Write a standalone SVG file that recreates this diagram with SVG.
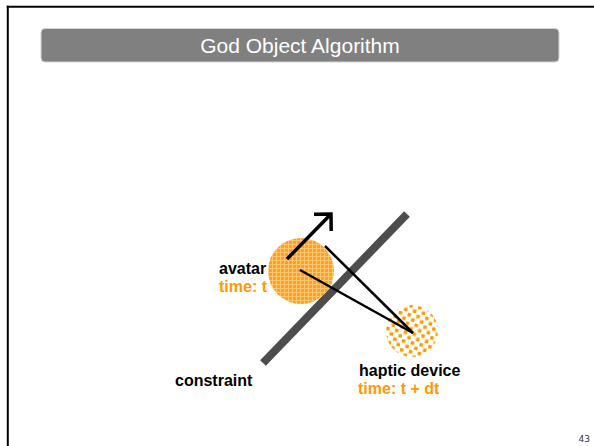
<svg xmlns="http://www.w3.org/2000/svg" width="594" height="446" viewBox="0 0 594 446">
  <style>
    .lbl { font-family: "Liberation Sans", Arial, sans-serif; font-weight: bold; font-size: 16px; }
    .blk { fill: #000000; }
    .org { fill: #FF9900; }
    .conn { stroke: #000000; fill: none; stroke-linecap: butt; }
  </style>
  <defs>
    <pattern id="hatch" width="4" height="4" patternUnits="userSpaceOnUse">
      <rect width="4" height="4" fill="#FFA11F"/>
      <rect x="0" y="0" width="4" height="1" fill="#FFC46E"/>
      <rect x="0" y="0" width="1" height="4" fill="#FFC46E"/>
    </pattern>
    <pattern id="dots" width="9" height="9" patternUnits="userSpaceOnUse" patternTransform="rotate(12)">
      <rect width="9" height="9" fill="#FFFFFF"/>
      <rect x="0.5" y="0.5" width="3.5" height="3.5" fill="#FF9900"/>
      <rect x="5" y="5" width="3.5" height="3.5" fill="#FF9900"/>
    </pattern>
    <marker id="openArrow" markerUnits="userSpaceOnUse" markerWidth="26" markerHeight="26" refX="13" refY="13" orient="auto" overflow="visible">
      <path d="M 1 1 L 13 13 L 1 25" fill="none" stroke="#000" stroke-width="3.5" stroke-linejoin="miter"/>
    </marker>
  </defs>

  <rect width="594" height="446" fill="#FFFFFF"/>

  <g id="frame">
    <line x1="6.8" y1="6.7" x2="594" y2="6.7" stroke="#000" stroke-width="2"/>
    <line x1="7.8" y1="5.7" x2="7.8" y2="446" stroke="#000" stroke-width="2"/>
  </g>

  <g id="title">
    <rect x="41" y="28.5" width="518" height="33.5" rx="4" ry="4" fill="#808080" stroke="#D4D4D4" stroke-width="1"/>
    <text x="300" y="52.5" text-anchor="middle" font-family="'Liberation Sans', Arial, sans-serif" font-size="21" fill="#FFFFFF">God Object Algorithm</text>
  </g>

  <g id="constraint">
    <line x1="263" y1="363" x2="407" y2="214" stroke="#4D4D4D" stroke-width="8"/>
    <text class="lbl blk" x="175" y="386">constraint</text>
  </g>

  <g id="avatar">
    <circle cx="301" cy="271" r="33" fill="url(#hatch)"/>
    <text class="lbl blk" x="219" y="274">avatar</text>
    <text class="lbl org" x="219" y="292">time: t</text>
  </g>

  <g id="haptic-device">
    <circle cx="412" cy="331" r="26" fill="url(#dots)"/>
    <text class="lbl blk" x="359" y="376">haptic device</text>
    <text class="lbl org" x="358" y="394">time: t + dt</text>
  </g>

  <g id="connectors">
    <line class="conn" x1="287" y1="259" x2="331" y2="214" stroke-width="3.5" marker-end="url(#openArrow)"/>
    <line class="conn" x1="325" y1="246" x2="413" y2="333" stroke-width="2.5"/>
    <line class="conn" x1="300" y1="270" x2="413" y2="333" stroke-width="2.5"/>
  </g>

  <g id="page-number">
    <text x="590" y="442" text-anchor="end" font-family="'DejaVu Sans', sans-serif" font-size="9" fill="#333333">43</text>
  </g>
</svg>
